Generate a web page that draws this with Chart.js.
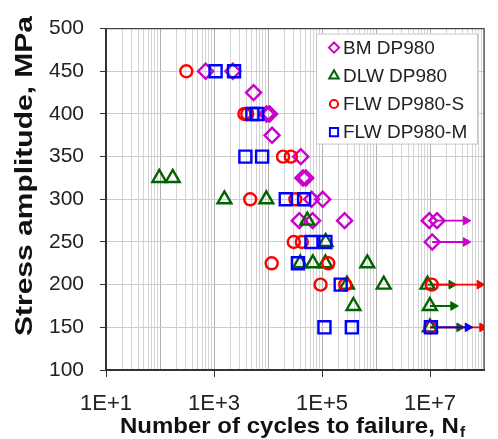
<!DOCTYPE html>
<html>
<head>
<meta charset="utf-8">
<script src="https://cdn.jsdelivr.net/npm/chart.js@4.4.1/dist/chart.umd.min.js"></script>
<style>
  html, body { margin: 0; padding: 0; background: #fff; }
  #wrap { width: 498px; height: 439px; }
</style>
</head>
<body>
<div id="wrap"><canvas id="chart" width="498" height="439"></canvas></div>
<script>
// cycles to failure / stress amplitude (MPa)
const bmCycles = [700, 2230, 5400, 9450, 10700, 11900, 40500, 44400, 50100, 64000, 103000, 38000, 67000, 262000, 9.7e6, 1.35e7, 1.1e7];
const bmStress = [450, 450, 425, 400, 400, 375, 350, 325, 325, 300, 300, 275, 275, 275, 275, 275, 250];

const dlwCycles = [97, 172, 1560, 9300, 53400, 117000, 39500, 67600, 115600, 690000, 290000, 1.39e6, 9.0e6, 382000, 9.95e6, 1.0e7];
const dlwStress = [325, 325, 300, 300, 275, 250, 225, 225, 225, 225, 200, 200, 200, 175, 175, 150];

const flwsCycles = [307, 3660, 4130, 19000, 26500, 4680, 32100, 30000, 42300, 11700, 130600, 94000, 270000, 1.08e7, 1.02e7];
const flwsStress = [450, 400, 400, 350, 350, 300, 300, 250, 250, 225, 225, 200, 200, 200, 150];

const flwmCycles = [1070, 2350, 5140, 6320, 3810, 7780, 21300, 46600, 63800, 115600, 35800, 222000, 111000, 357000, 1.04e7];
const flwmStress = [450, 450, 400, 400, 350, 350, 300, 300, 250, 250, 225, 200, 150, 150, 150];

// run-outs (no failure): arrow from -> to at stress level
const bmRunFrom = [1.35e7, 1.1e7];
const bmRunTo = [4.6e7, 4.6e7];
const bmRunStress = [275, 250];

const dlwRunFrom = [9.0e6, 9.95e6, 1.0e7];
const dlwRunTo = [2.5e7, 2.7e7, 3.5e7];
const dlwRunStress = [200, 175, 150];

const flwsRunFrom = [1.08e7, 1.02e7];
const flwsRunTo = [8.3e7, 9.3e7];
const flwsRunStress = [200, 150];

const flwmRunFrom = [1.04e7];
const flwmRunTo = [5.0e7];
const flwmRunStress = [150];

const xLabelled = [1e1, 1e3, 1e5, 1e7];
const yTicks = { min: 100, max: 500, step: 25, labelStep: 50 };

const pts = (xs, ys) => xs.map((x, i) => ({ x: x, y: ys[i] }));
const arrows = (from, to, s) => {
  let out = [];
  for (let i = 0; i < from.length; i++) {
    out.push({ x: from[i], y: s[i] }, { x: to[i], y: s[i] }, { x: to[i], y: null });
  }
  return out;
};

function markerSet(label, data, color, style, radius, order) {
  return {
    label: label,
    data: data,
    pointStyle: style,
    pointRadius: radius,
    pointHoverRadius: radius,
    pointBorderWidth: 2.4,
    pointBorderColor: color,
    pointBackgroundColor: "rgba(0,0,0,0)",
    showLine: false,
    order: order,
  };
}

function arrowSet(data, color, order) {
  return {
    label: "",
    runout: true,
    data: data,
    showLine: true,
    spanGaps: false,
    borderColor: color,
    borderWidth: 1.8,
    pointStyle: "triangle",
    rotation: 90,
    pointRadius: (c) => (c.dataIndex % 3 === 1 ? 5 : 0),
    pointHoverRadius: (c) => (c.dataIndex % 3 === 1 ? 5 : 0),
    pointBackgroundColor: color,
    pointBorderColor: color,
    pointBorderWidth: 1,
    order: order,
  };
}

const magenta = "#cc00cc";
const green = "#006400";
const red = "#ff0000";
const blue = "#0000ff";

const datasets = [
  arrowSet(arrows(bmRunFrom, bmRunTo, bmRunStress), magenta, 8),
  arrowSet(arrows(dlwRunFrom, dlwRunTo, dlwRunStress), green, 7),
  arrowSet(arrows(flwsRunFrom, flwsRunTo, flwsRunStress), red, 6),
  arrowSet(arrows(flwmRunFrom, flwmRunTo, flwmRunStress), blue, 5),
  markerSet("BM DP980", pts(bmCycles, bmStress), magenta, "rectRot", 7.5, 4),
  markerSet("DLW DP980", pts(dlwCycles, dlwStress), green, "triangle", 8, 3),
  markerSet("FLW DP980-S", pts(flwsCycles, flwsStress), red, "circle", 6, 2),
  markerSet("FLW DP980-M", pts(flwmCycles, flwmStress), blue, "rect", 8.5, 1),
];

const isDecade = (v) => Math.abs(Math.log10(v) - Math.round(Math.log10(v))) < 1e-9;
const isLabelled = (v) => xLabelled.some((t) => Math.abs(t - v) / t < 1e-9);

const fontFamily = "'Liberation Sans', Arial, sans-serif";

// frame on top/right + legend inside plot + axis titles
const extras = {
  id: "extras",
  afterDatasetsDraw(chart) {
    const ctx = chart.ctx;
    const a = chart.chartArea;
    ctx.save();
    ctx.strokeStyle = "#444";
    ctx.lineWidth = 1.2;
    ctx.beginPath();
    ctx.moveTo(a.left, a.top);
    ctx.lineTo(a.right, a.top);
    ctx.lineTo(a.right, a.bottom);
    ctx.stroke();

    // legend
    const bw = 161, bh = 110;
    const bx = a.right - 7 - bw, by = a.top + 5;
    ctx.fillStyle = "#fff";
    ctx.fillRect(bx, by, bw, bh);
    ctx.strokeStyle = "#c8c8c8";
    ctx.lineWidth = 1;
    ctx.strokeRect(bx + 0.5, by + 0.5, bw, bh);
    const items = chart.data.datasets.filter((d) => !d.runout);
    ctx.font = "19px " + fontFamily;
    ctx.textBaseline = "middle";
    ctx.textAlign = "left";
    items.forEach((d, i) => {
      const cy = by + 14 + i * 28.2;
      const cx = bx + 18;
      ctx.strokeStyle = d.pointBorderColor;
      ctx.fillStyle = "rgba(0,0,0,0)";
      ctx.lineWidth = 2;
      Chart.helpers.drawPoint(ctx, { pointStyle: d.pointStyle, radius: d.pointRadius * 0.68, borderWidth: 2, rotation: 0 }, cx, cy);
      ctx.fillStyle = "#222";
      ctx.fillText(d.label, bx + 27, cy + 1);
    });
    ctx.restore();
  },
  afterDraw(chart) {
    const ctx = chart.ctx;
    ctx.save();
    ctx.fillStyle = "#111";
    // y title
    const yText = "Stress amplitude, MPa";
    ctx.font = "bold 23px " + fontFamily;
    const yw = ctx.measureText(yText).width;
    ctx.translate(25, 176);
    ctx.rotate(-Math.PI / 2);
    ctx.scale(320 / yw, 1);
    ctx.textAlign = "center";
    ctx.textBaseline = "middle";
    ctx.fillText(yText, 0, 1);
    ctx.restore();

    // x title with subscript f
    ctx.save();
    ctx.fillStyle = "#111";
    const main = "Number of cycles to failure, N";
    ctx.font = "bold 22px " + fontFamily;
    const mw = ctx.measureText(main).width;
    ctx.font = "bold 14px " + fontFamily;
    const sw = ctx.measureText("f").width;
    const total = mw + sw + 1;
    const sx = 345 / total;
    ctx.translate(292.5 - 345 / 2, 433);
    ctx.scale(sx, 1);
    ctx.textBaseline = "alphabetic";
    ctx.textAlign = "left";
    ctx.font = "bold 22px " + fontFamily;
    ctx.fillText(main, 0, 0);
    ctx.font = "bold 14px " + fontFamily;
    ctx.fillText("f", mw + 1, 4);
    ctx.restore();
  },
};

new Chart(document.getElementById("chart"), {
  type: "scatter",
  data: { datasets: datasets },
  plugins: [extras],
  options: {
    responsive: false,
    devicePixelRatio: 1,
    animation: false,
    layout: { padding: { top: 23, right: 4, left: 0, bottom: 0 } },
    plugins: {
      legend: { display: false },
      tooltip: { enabled: false },
    },
    scales: {
      x: {
        type: "logarithmic",
        min: 10,
        max: 1e8,
        afterBuildTicks(scale) {
          const t = [];
          for (let e = 1; e < 8; e++) {
            for (let m = 1; m < 10; m++) t.push({ value: m * Math.pow(10, e) });
          }
          t.push({ value: 1e8 });
          scale.ticks = t;
        },
        afterFit(scale) {
          scale.height = 69;
        },
        ticks: {
          autoSkip: false,
          maxRotation: 0,
          padding: 14,
          color: "#222",
          font: { family: fontFamily, size: 22 },
          callback: (v) => (isLabelled(v) ? "1E+" + Math.round(Math.log10(v)) : ""),
        },
        grid: {
          color: (c) => (c.tick && isDecade(c.tick.value) ? "#b0b0b0" : "#d4d4d4"),
          tickColor: (c) => (c.tick && isLabelled(c.tick.value) ? "#333" : "rgba(0,0,0,0)"),
          tickLength: 7,
          lineWidth: 1,
        },
        border: { color: "#333", width: 2 },
      },
      y: {
        min: yTicks.min,
        max: yTicks.max,
        afterFit(scale) {
          scale.width = 106;
        },
        ticks: {
          stepSize: yTicks.step,
          padding: 16,
          color: "#222",
          font: { family: fontFamily, size: 21 },
          callback: (v) => (v % yTicks.labelStep === 0 ? v : ""),
        },
        grid: {
          color: "#cccccc",
          tickColor: "#333",
          tickLength: 6,
          lineWidth: 1,
        },
        border: { color: "#333", width: 2 },
      },
    },
  },
});
</script>
</body>
</html>
